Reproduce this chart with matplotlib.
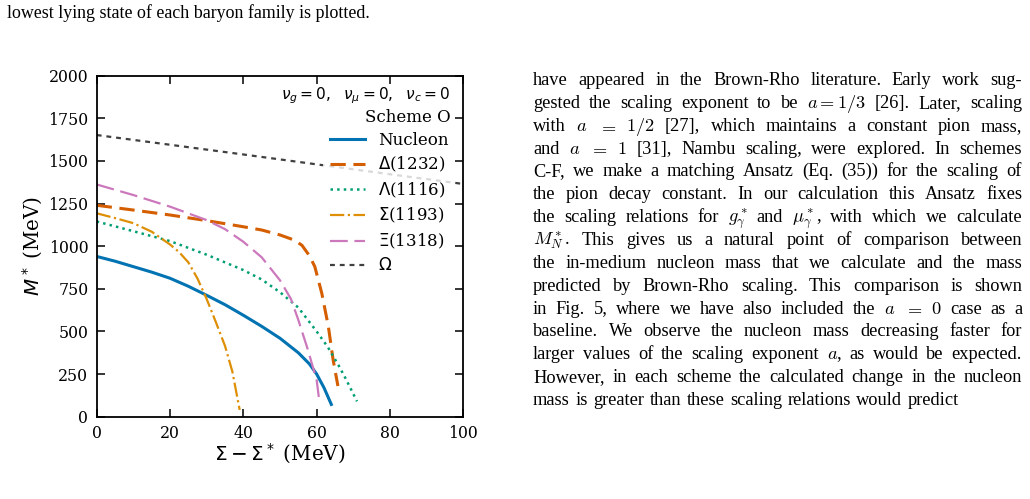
import matplotlib
matplotlib.use("Agg")
import matplotlib.pyplot as plt

# Curves: Sigma - Sigma* (MeV) vs M* (MeV)
nucleon_x = [0, 5, 10, 15, 20, 25, 30, 35, 40, 45, 50, 55, 58, 60, 62, 64]
nucleon_y = [940, 912, 880, 848, 812, 765, 712, 657, 595, 530, 460, 375, 310, 250, 170, 72]

delta_x = [0, 10, 20, 30, 40, 45, 50, 54, 56, 58, 59.5, 61.4, 63.2, 64.5, 65.8]
delta_y = [1240, 1212, 1183, 1150, 1114, 1095, 1066, 1035, 1005, 945, 880, 724, 528, 332, 180]

lambda_x = [0, 10, 20, 30, 40, 45, 50, 55, 60, 63, 66, 68, 71]
lambda_y = [1145, 1088, 1030, 950, 860, 805, 730, 640, 500, 410, 300, 220, 90]

sigma_x = [0, 5, 10, 15, 20, 22.5, 25, 27.5, 30, 32.5, 35, 37, 39]
sigma_y = [1193, 1165, 1135, 1085, 1010, 965, 905, 810, 690, 555, 415, 265, 40]

xi_x = [0, 10, 20, 30, 35, 40, 45, 50, 53, 55, 57.5, 60, 60.7]
xi_y = [1362, 1300, 1232, 1153, 1100, 1026, 935, 800, 690, 567, 400, 215, 95]

omega_x = [0, 20, 40, 60, 80, 100]
omega_y = [1652, 1595, 1538, 1480, 1422, 1365]

caption = "lowest lying state of each baryon family is plotted."

paragraph = [
    "have appeared in the Brown-Rho literature. Early work sug-",
    "gested the scaling exponent to be $a = 1/3$ [26]. Later, scaling",
    "with $a$ $=$ $1/2$ [27], which maintains a constant pion mass,",
    "and $a$ $=$ $1$ [31], Nambu scaling, were explored. In schemes",
    "C-F, we make a matching Ansatz (Eq. (35)) for the scaling of",
    "the pion decay constant. In our calculation this Ansatz fixes",
    r"the scaling relations for $g^*_\gamma$ and $\mu^*_\gamma$, with which we calculate",
    "$M^*_N$. This gives us a natural point of comparison between",
    "the in-medium nucleon mass that we calculate and the mass",
    "predicted by Brown-Rho scaling. This comparison is shown",
    "in Fig. 5, where we have also included the $a$ $=$ $0$ case as a",
    "baseline. We observe the nucleon mass decreasing faster for",
    "larger values of the scaling exponent $a$, as would be expected.",
    "However, in each scheme the calculated change in the nucleon",
    "mass is greater than these scaling relations would predict",
]

plt.rcParams['font.family'] = 'DejaVu Serif'
plt.rcParams['mathtext.fontset'] = 'dejavusans'

W, H = 1030, 499
fig = plt.figure(figsize=(10.3, 4.99), dpi=100)
ax = fig.add_axes([96.7 / W, 1 - 416.7 / H, (463.3 - 96.7) / W, (416.7 - 75.7) / H])

ax.plot(nucleon_x, nucleon_y, color='#0173B2', lw=2.2, label='Nucleon')
ax.plot(delta_x, delta_y, color='#D55E00', lw=2.2, dashes=(5, 2.5), label=r'$\Delta$(1232)')
ax.plot(lambda_x, lambda_y, color='#029E73', lw=1.8, ls=':', label=r'$\Lambda$(1116)')
ax.plot(sigma_x, sigma_y, color='#DE8F05', lw=1.6, ls='-.', label=r'$\Sigma$(1193)')
ax.plot(xi_x, xi_y, color='#CC78BC', lw=1.6, dashes=(8, 3), label=r'$\Xi$(1318)')
ax.plot(omega_x, omega_y, color='#404040', lw=1.6, dashes=(2.2, 2.2), label=r'$\Omega$')

ax.set_xlim(0, 100)
ax.set_ylim(0, 2000)
ax.set_xticks([0, 20, 40, 60, 80, 100])
ax.set_yticks([0, 250, 500, 750, 1000, 1250, 1500, 1750, 2000])
ax.tick_params(direction='in', top=True, right=True, length=6, width=1.1,
               pad=6, labelsize=11.3)
for s in ax.spines.values():
    s.set_linewidth(1.3)

ax.set_xlabel(r'$\Sigma - \Sigma^*$ (MeV)', fontsize=14.3, labelpad=0)
ax.set_ylabel(r'$M^*$ (MeV)', fontsize=14.3, labelpad=2)

# header lines above the legend box
fig.text(450 / W, 1 - 96 / H, r'$\nu_g = 0,\ \ \nu_\mu = 0,\ \ \nu_c = 0$',
         fontsize=11.1, ha='right', va='center')
fig.text(451 / W, 1 - 117 / H, 'Scheme O', fontsize=12, ha='right', va='center')

leg = ax.legend(loc='upper right', bbox_to_anchor=(0.9774, 0.8554),
                borderaxespad=0, fontsize=12, frameon=True,
                framealpha=0.8, edgecolor='none', fancybox=False,
                handlelength=2.1, labelspacing=0.38)

# page text around the figure
fs = 13.2
txt_kw = dict(fontfamily='Liberation Serif', fontsize=fs, color='black',
              math_fontfamily='cm', va='baseline')
cap_kw = dict(txt_kw, fontsize=12.9)
fig.text(7 / W, 1 - 18 / H, caption, **cap_kw)


def split_words(line):
    words, cur, inmath = [], '', False
    for ch in line:
        if ch == '$':
            inmath = not inmath
        if ch == ' ' and not inmath:
            if cur:
                words.append(cur)
            cur = ''
        else:
            cur += ch
    if cur:
        words.append(cur)
    return words


renderer = fig.canvas.get_renderer()
x0, x1 = 533.0, 1022.0
for i, line in enumerate(paragraph):
    yb = 85 + 22.85 * i
    words = split_words(line)
    items = [fig.text(0, 0, w, **txt_kw) for w in words]
    widths = [t.get_window_extent(renderer).width for t in items]
    if i < len(paragraph) - 1:
        gap = (x1 - x0 - sum(widths)) / (len(words) - 1)
    else:
        gap = 0.3 * fs * 100 / 72
    x = x0
    for t, w in zip(items, widths):
        t.set_position((x / W, 1 - yb / H))
        x += w + gap

fig.savefig('out.png', dpi=100)
